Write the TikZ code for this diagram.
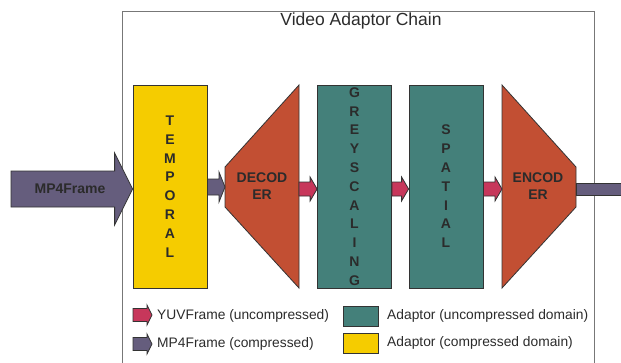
\documentclass[tikz,border=0pt]{standalone}
\usepackage{fontspec}
\setmainfont{Liberation Sans}
\usetikzlibrary{calc}
\definecolor{cyel}{HTML}{F5CC00}
\definecolor{cred}{HTML}{C24F33}
\definecolor{cteal}{HTML}{44807A}
\definecolor{cpurp}{HTML}{655D7D}
\definecolor{cpink}{HTML}{C7375B}
\definecolor{cline}{HTML}{333333}
\definecolor{ctext}{HTML}{2B2B2B}
\definecolor{cframe}{HTML}{777777}
\tikzset{
  outl/.style={draw=cline, line width=0.8pt},
  adaptor/.style={outl, minimum width=74pt, minimum height=203pt, inner sep=0pt, align=center,
    font=\bfseries\fontsize{14}{18.8}\selectfont, text=ctext},
  codec/.style={outl, fill=cred},
  codeclbl/.style={align=center, font=\bfseries\fontsize{14}{17}\selectfont, text=ctext, inner sep=0pt},
  purp/.style={outl, fill=cpurp},
  pinkf/.style={outl, fill=cpink},
  frame/.style={draw=cframe, line width=0.9pt},
  legtxt/.style={anchor=west, font=\fontsize{13.8}{16}\selectfont, text=ctext, inner sep=0pt},
  legbox/.style={outl, minimum width=35pt, minimum height=20pt, inner sep=0pt},
}
\newcommand\blockarr[6]{\filldraw[#1] let \p1=(#2), \p2=(#3) in
  (\x1,\y2+#4) -- (\x2-#6,\y2+#4) -- (\x2-#6,\y2+#5) -- (\x2,\y2) -- (\x2-#6,\y2-#5)
  -- (\x2-#6,\y2-#4) -- (\x1,\y2-#4) -- cycle;}
\begin{document}
\begin{tikzpicture}[x=1pt,y=-1pt]
\useasboundingbox (0,0) rectangle (621,362);
\draw[frame] (122,11) rectangle (594,390);
\node[anchor=base, font=\fontsize{17.5}{20}\selectfont, text=ctext, inner sep=0pt] (title) at (361,25) {Video Adaptor Chain};

\coordinate (lvl) at (0,189);
% adaptors
\node[adaptor, fill=cyel] (temporal) at (170,186.5) {T\\E\\M\\P\\O\\R\\A\\L};
\node[adaptor, fill=cteal] (grey) at (354.5,186.5) {G\\R\\E\\Y\\S\\C\\A\\L\\I\\N\\G};
\node[adaptor, fill=cteal] (spatial) at (446,186.5) {S\\P\\A\\T\\I\\A\\L};

% decoder
\filldraw[codec] (225,167) -- (299,85) -- (299,288) -- (225,207) -- cycle;
\coordinate (decin) at (225,187);
\coordinate (decout) at (299,189);
\node[codeclbl] (declbl) at (262,186.5) {DECOD\\ER};

% encoder
\filldraw[codec] (502,85) -- (576,167) -- (576,207) -- (502,288) -- cycle;
\coordinate (encin) at (502,189);
\coordinate (encout) at (576,189);
\node[codeclbl] (enclbl) at (538,186.5) {ENCOD\\ER};

% input arrow
\coordinate (instart) at (11,189);
\blockarr{purp}{instart}{temporal.west |- lvl}{18pt}{36pt}{18pt}
\node[font=\bfseries\fontsize{14}{16}\selectfont, text=ctext, inner sep=0pt] (inlbl) at (70,189) {MP4Frame};

% chain arrows
\blockarr{purp}{temporal.east |- decin}{decin}{8pt}{15pt}{6pt}
\blockarr{pinkf}{decout}{grey.west |- lvl}{7pt}{12pt}{7pt}
\blockarr{pinkf}{grey.east |- lvl}{spatial.west |- lvl}{7pt}{12pt}{7pt}
\blockarr{pinkf}{spatial.east |- lvl}{encin}{7pt}{12pt}{7pt}

% output bar
\coordinate (outend) at (640,189);
\filldraw[purp] ($(encout)+(0,-6)$) rectangle ($(outend)+(0,6)$);

% legend
\coordinate (lg1s) at (133,315);
\coordinate (lg1t) at (152,315);
\coordinate (lg2s) at (133,344);
\coordinate (lg2t) at (152,344);
\blockarr{pinkf}{lg1s}{lg1t}{6.5pt}{10pt}{5pt}
\blockarr{purp}{lg2s}{lg2t}{6.5pt}{10pt}{5pt}
\node[legtxt] (lt1) at (157,316) {YUVFrame (uncompressed)};
\node[legtxt] (lt2) at (157,344) {MP4Frame (compressed)};
\node[legbox, fill=cteal] (lb1) at (360.5,316) {};
\node[legbox, fill=cyel] (lb2) at (360.5,343) {};
\node[legtxt] (lt3) at (387,316) {Adaptor (uncompressed domain)};
\node[legtxt] (lt4) at (387,343) {Adaptor (compressed domain)};
\end{tikzpicture}
\end{document}
